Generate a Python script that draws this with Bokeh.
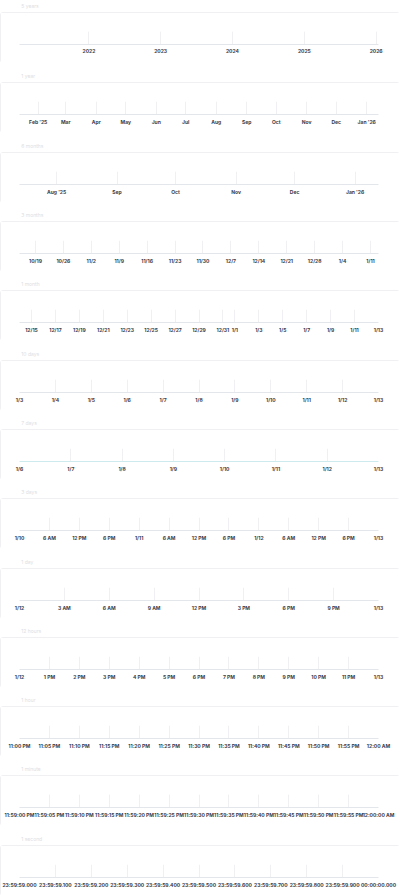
import pandas as pd
from bokeh.plotting import figure
from bokeh.models import Range1d, LinearAxis, FixedTicker, Label, Grid
from bokeh.layouts import column
from bokeh.embed import file_html
from bokeh.resources import INLINE

RANGE_END = "2026-01-13 00:00:00"

TITLES = ["5 years", "1 year", "6 months", "3 months", "1 month", "10 days", "7 days",
          "3 days", "1 day", "12 hours", "1 hour", "1 minute", "1 second"]

RANGE_STARTS = ["2021-01-13", "2025-01-13", "2025-07-13", "2025-10-15", "2025-12-14",
                "2026-01-03", "2026-01-06", "2026-01-10", "2026-01-12",
                "2026-01-12 12:00:00", "2026-01-12 23:00:00", "2026-01-12 23:59:00",
                "2026-01-12 23:59:59"]

P1_TICKS = ["2022-01-01", "2023-01-01", "2024-01-01", "2025-01-01", "2026-01-01"]
P1_LABELS = ["2022", "2023", "2024", "2025", "2026"]

P2_TICKS = ["2025-02-01", "2025-03-01", "2025-04-01", "2025-05-01", "2025-06-01", "2025-07-01",
            "2025-08-01", "2025-09-01", "2025-10-01", "2025-11-01", "2025-12-01", "2026-01-01"]
P2_LABELS = ["Feb '25", "Mar", "Apr", "May", "Jun", "Jul", "Aug", "Sep", "Oct", "Nov", "Dec", "Jan '26"]

P3_TICKS = ["2025-08-01", "2025-09-01", "2025-10-01", "2025-11-01", "2025-12-01", "2026-01-01"]
P3_LABELS = ["Aug '25", "Sep", "Oct", "Nov", "Dec", "Jan '26"]

P4_TICKS = ["2025-10-19", "2025-10-26", "2025-11-02", "2025-11-09", "2025-11-16", "2025-11-23",
            "2025-11-30", "2025-12-07", "2025-12-14", "2025-12-21", "2025-12-28", "2026-01-04",
            "2026-01-11"]
P4_LABELS = ["10/19", "10/26", "11/2", "11/9", "11/16", "11/23", "11/30", "12/7", "12/14",
             "12/21", "12/28", "1/4", "1/11"]

P5_TICKS = ["2025-12-15", "2025-12-17", "2025-12-19", "2025-12-21", "2025-12-23", "2025-12-25",
            "2025-12-27", "2025-12-29", "2025-12-31", "2026-01-01", "2026-01-03", "2026-01-05",
            "2026-01-07", "2026-01-09", "2026-01-11", "2026-01-13"]
P5_LABELS = ["12/15", "12/17", "12/19", "12/21", "12/23", "12/25", "12/27", "12/29", "12/31",
             "1/1", "1/3", "1/5", "1/7", "1/9", "1/11", "1/13"]

P6_TICKS = ["2026-01-03", "2026-01-04", "2026-01-05", "2026-01-06", "2026-01-07", "2026-01-08",
            "2026-01-09", "2026-01-10", "2026-01-11", "2026-01-12", "2026-01-13"]
P6_LABELS = ["1/3", "1/4", "1/5", "1/6", "1/7", "1/8", "1/9", "1/10", "1/11", "1/12", "1/13"]

P7_TICKS = ["2026-01-06", "2026-01-07", "2026-01-08", "2026-01-09", "2026-01-10", "2026-01-11",
            "2026-01-12", "2026-01-13"]
P7_LABELS = ["1/6", "1/7", "1/8", "1/9", "1/10", "1/11", "1/12", "1/13"]

P8_TICKS = ["2026-01-10 00:00", "2026-01-10 06:00", "2026-01-10 12:00", "2026-01-10 18:00",
            "2026-01-11 00:00", "2026-01-11 06:00", "2026-01-11 12:00", "2026-01-11 18:00",
            "2026-01-12 00:00", "2026-01-12 06:00", "2026-01-12 12:00", "2026-01-12 18:00",
            "2026-01-13 00:00"]
P8_LABELS = ["1/10", "6 AM", "12 PM", "6 PM", "1/11", "6 AM", "12 PM", "6 PM", "1/12",
             "6 AM", "12 PM", "6 PM", "1/13"]

P9_TICKS = ["2026-01-12 00:00", "2026-01-12 03:00", "2026-01-12 06:00", "2026-01-12 09:00",
            "2026-01-12 12:00", "2026-01-12 15:00", "2026-01-12 18:00", "2026-01-12 21:00",
            "2026-01-13 00:00"]
P9_LABELS = ["1/12", "3 AM", "6 AM", "9 AM", "12 PM", "3 PM", "6 PM", "9 PM", "1/13"]

P10_TICKS = ["2026-01-12 12:00", "2026-01-12 13:00", "2026-01-12 14:00", "2026-01-12 15:00",
             "2026-01-12 16:00", "2026-01-12 17:00", "2026-01-12 18:00", "2026-01-12 19:00",
             "2026-01-12 20:00", "2026-01-12 21:00", "2026-01-12 22:00", "2026-01-12 23:00",
             "2026-01-13 00:00"]
P10_LABELS = ["1/12", "1 PM", "2 PM", "3 PM", "4 PM", "5 PM", "6 PM", "7 PM", "8 PM", "9 PM",
              "10 PM", "11 PM", "1/13"]

P11_TICKS = ["2026-01-12 23:00", "2026-01-12 23:05", "2026-01-12 23:10", "2026-01-12 23:15",
             "2026-01-12 23:20", "2026-01-12 23:25", "2026-01-12 23:30", "2026-01-12 23:35",
             "2026-01-12 23:40", "2026-01-12 23:45", "2026-01-12 23:50", "2026-01-12 23:55",
             "2026-01-13 00:00"]
P11_LABELS = ["11:00 PM", "11:05 PM", "11:10 PM", "11:15 PM", "11:20 PM", "11:25 PM", "11:30 PM",
              "11:35 PM", "11:40 PM", "11:45 PM", "11:50 PM", "11:55 PM", "12:00 AM"]

P12_TICKS = ["2026-01-12 23:59:00", "2026-01-12 23:59:05", "2026-01-12 23:59:10",
             "2026-01-12 23:59:15", "2026-01-12 23:59:20", "2026-01-12 23:59:25",
             "2026-01-12 23:59:30", "2026-01-12 23:59:35", "2026-01-12 23:59:40",
             "2026-01-12 23:59:45", "2026-01-12 23:59:50", "2026-01-12 23:59:55",
             "2026-01-13 00:00:00"]
P12_LABELS = ["11:59:00 PM", "11:59:05 PM", "11:59:10 PM", "11:59:15 PM", "11:59:20 PM",
              "11:59:25 PM", "11:59:30 PM", "11:59:35 PM", "11:59:40 PM", "11:59:45 PM",
              "11:59:50 PM", "11:59:55 PM", "12:00:00 AM"]

P13_TICKS = ["2026-01-12 23:59:59.000", "2026-01-12 23:59:59.100", "2026-01-12 23:59:59.200",
             "2026-01-12 23:59:59.300", "2026-01-12 23:59:59.400", "2026-01-12 23:59:59.500",
             "2026-01-12 23:59:59.600", "2026-01-12 23:59:59.700", "2026-01-12 23:59:59.800",
             "2026-01-12 23:59:59.900", "2026-01-13 00:00:00.000"]
P13_LABELS = ["23:59:59.000", "23:59:59.100", "23:59:59.200", "23:59:59.300", "23:59:59.400",
              "23:59:59.500", "23:59:59.600", "23:59:59.700", "23:59:59.800", "23:59:59.900",
              "00:00:00.000"]

ALL_TICKS = [P1_TICKS, P2_TICKS, P3_TICKS, P4_TICKS, P5_TICKS, P6_TICKS, P7_TICKS,
             P8_TICKS, P9_TICKS, P10_TICKS, P11_TICKS, P12_TICKS, P13_TICKS]
ALL_LABELS = [P1_LABELS, P2_LABELS, P3_LABELS, P4_LABELS, P5_LABELS, P6_LABELS, P7_LABELS,
              P8_LABELS, P9_LABELS, P10_LABELS, P11_LABELS, P12_LABELS, P13_LABELS]

# layout (pixels)
W = 400
BOX_H = 51
HEAD_H = [12, 19, 19, 18, 18, 19, 18, 18, 19, 18, 18, 18, 19]
FRAME_TOP, AXIS_Y = 19, 32


def ms(s):
    return float(pd.Timestamp(s).value // 10**6)


def make_head(i):
    h = HEAD_H[i]
    p = figure(width=W, height=h, x_range=Range1d(0, W), y_range=Range1d(0, h),
               x_axis_type=None, y_axis_type=None, toolbar_location=None,
               output_backend="svg", min_border=0,
               min_border_left=0, min_border_right=0, min_border_top=0, min_border_bottom=0)
    p.outline_line_color = None
    p.background_fill_color = "white"
    p.border_fill_color = "white"
    p.grid.visible = False
    p.add_layout(Label(x=2, y=7, text=TITLES[i], text_font="Inter",
                       text_font_size="5px", text_color="#dedee2",
                       text_baseline="middle", text_align="left"))
    return p


def make_panel(i):
    ticks = [ms(s) for s in ALL_TICKS[i]]
    p = figure(width=W, height=BOX_H,
               x_range=Range1d(ms(RANGE_STARTS[i]), ms(RANGE_END)),
               y_range=Range1d(0, 1),
               x_axis_type=None, y_axis_type=None,
               toolbar_location=None, output_backend="svg",
               min_border_left=19, min_border_right=22,
               min_border_top=FRAME_TOP, min_border_bottom=BOX_H - AXIS_Y)
    p.outline_line_color = None
    p.background_fill_color = "white"
    p.border_fill_color = "white"
    p.styles = {"outline": "1px solid #ebebee", "outline-offset": "-1px",
                "border-radius": "3px"}

    ticker = FixedTicker(ticks=ticks)
    axis_color = "#cdebef" if i == 6 else "#e3e6ea"
    ax = LinearAxis(ticker=ticker,
                    major_label_overrides={t: l for t, l in zip(ticks, ALL_LABELS[i])},
                    axis_line_color=axis_color, axis_line_width=1,
                    major_tick_in=0, major_tick_out=0, minor_tick_in=0, minor_tick_out=0,
                    major_label_standoff=4,
                    major_label_text_font="Inter",
                    major_label_text_font_size="5px",
                    major_label_text_font_style="bold",
                    major_label_text_color="#3a3d48")
    p.add_layout(ax, "below")
    p.add_layout(Grid(axis=ax, dimension=0, ticker=ticker,
                      grid_line_color="#f0f0f3", grid_line_width=1))
    return p


items = []
for i in range(13):
    items.append(make_head(i))
    items.append(make_panel(i))

layout = column(*items, spacing=0)

open("out.html", "w").write(file_html(layout, INLINE))
